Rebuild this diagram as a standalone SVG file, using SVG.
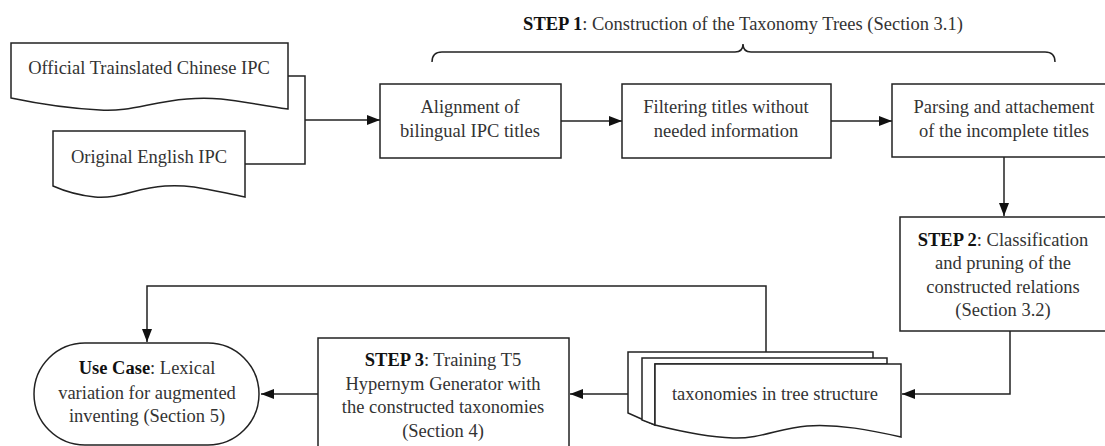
<svg xmlns="http://www.w3.org/2000/svg" width="1105" height="446" viewBox="0 0 1105 446">
  <style>
    .shape { fill: #ffffff; stroke: #222222; stroke-width: 1.5; }
    .line { fill: none; stroke: #222222; stroke-width: 1.5; }
    text { font-family: "Liberation Serif", "Times New Roman", serif; font-size: 18.5px; fill: #333333; text-anchor: middle; dominant-baseline: central; }
    .b { font-weight: bold; fill: #111111; }
  </style>
  <defs>
    <marker id="arrow" viewBox="0 0 13 10" refX="13" refY="5" markerWidth="13" markerHeight="10" markerUnits="userSpaceOnUse" orient="auto">
      <path d="M0,0 L13,5 L0,10 Z" fill="#111111"/>
    </marker>
  </defs>

  <!-- connectors -->
  <g id="connectors">
    <polyline class="line" points="288,76 305,76 305,164 245,164"/>
    <line class="line" x1="305" y1="120" x2="380" y2="120" marker-end="url(#arrow)"/>
    <line class="line" x1="561" y1="121" x2="622" y2="121" marker-end="url(#arrow)"/>
    <line class="line" x1="831" y1="121" x2="892" y2="121" marker-end="url(#arrow)"/>
    <line class="line" x1="1004" y1="157" x2="1004" y2="216" marker-end="url(#arrow)"/>
    <polyline class="line" points="1010,331 1010,394 902,394" marker-end="url(#arrow)"/>
    <line class="line" x1="628" y1="394" x2="570" y2="394" marker-end="url(#arrow)"/>
    <line class="line" x1="318" y1="394" x2="261" y2="394" marker-end="url(#arrow)"/>
    <polyline class="line" points="766,352 766,286 147,286 147,342" marker-end="url(#arrow)"/>
  </g>

  <!-- brace over step 1 -->
  <g id="step1-label">
    <path class="line" d="M432,62 Q432,52 442,52 L735,52 Q743,52 743,44 Q743,52 751,52 L1045,52 Q1055,52 1055,62"/>
    <text x="743" y="24"><tspan class="b">STEP 1</tspan>: Construction of the Taxonomy Trees (Section 3.1)</text>
  </g>

  <g id="chinese-ipc">
    <path class="shape" d="M11,43 L288,43 L288,109 C240,102 220,96 187,99 C150,102 130,112 100,110 C60,108 30,102 11,98 Z"/>
    <text x="149" y="68">Official Trainslated Chinese IPC</text>
  </g>

  <g id="english-ipc">
    <path class="shape" d="M53,131 L245,131 L245,197 C210,190 190,184 165,186 C135,188 120,199 95,197 C75,195 62,190 53,186 Z"/>
    <text x="149" y="157">Original English IPC</text>
  </g>

  <g id="alignment">
    <rect class="shape" x="380" y="84" width="181" height="74"/>
    <text x="470" y="107">Alignment of</text>
    <text x="470" y="131">bilingual IPC titles</text>
  </g>

  <g id="filtering">
    <rect class="shape" x="622" y="84" width="209" height="74"/>
    <text x="726" y="107">Filtering titles without</text>
    <text x="726" y="131">needed information</text>
  </g>

  <g id="parsing">
    <rect class="shape" x="892" y="84" width="225" height="73"/>
    <text x="1004" y="107">Parsing and attachement</text>
    <text x="1004" y="131">of the incomplete titles</text>
  </g>

  <g id="step2">
    <rect class="shape" x="900" y="217" width="215" height="114"/>
    <text x="1003" y="240"><tspan class="b">STEP 2</tspan>: Classification</text>
    <text x="1003" y="263">and pruning of the</text>
    <text x="1003" y="287">constructed relations</text>
    <text x="1003" y="310">(Section 3.2)</text>
  </g>

  <g id="taxonomies">
    <path class="shape" d="M628,352 L873,352 L873,364 L655,364 L655,425 L628,413 Z"/>
    <path class="shape" d="M642,358 L887,358 L887,364 L655,364 L655,425 L642,420 Z"/>
    <path class="shape" d="M655,364 L901,364 L901,437 C870,430 840,424 807,426 C780,428 760,439 733,438 C705,437 675,430 655,425 Z"/>
    <text x="775" y="394">taxonomies in tree structure</text>
  </g>

  <g id="step3">
    <rect class="shape" x="318" y="338" width="251" height="120"/>
    <text x="443" y="360"><tspan class="b">STEP 3</tspan>: Training T5</text>
    <text x="443" y="384">Hypernym Generator with</text>
    <text x="443" y="407">the constructed taxonomies</text>
    <text x="443" y="431">(Section 4)</text>
  </g>

  <g id="use-case">
    <rect class="shape" x="34" y="343" width="225" height="102" rx="51" ry="51"/>
    <text x="147" y="368"><tspan class="b">Use Case</tspan>: Lexical</text>
    <text x="147" y="393">variation for augmented</text>
    <text x="147" y="416">inventing (Section 5)</text>
  </g>
</svg>
